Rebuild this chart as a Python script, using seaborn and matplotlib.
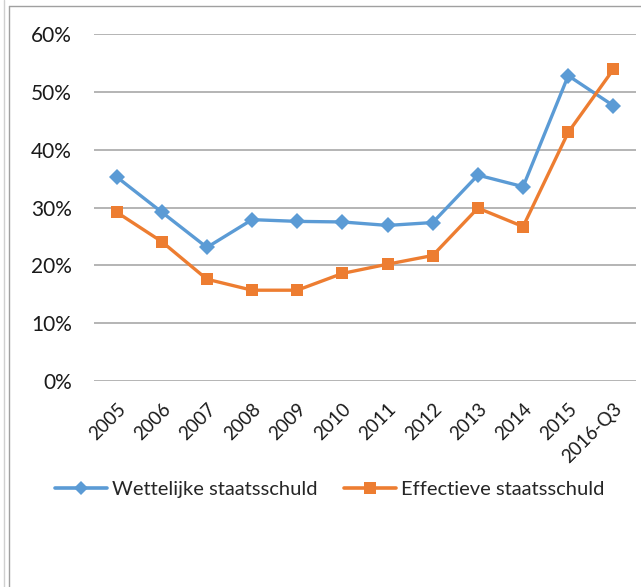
import pandas as pd
import matplotlib
matplotlib.use("Agg")
from matplotlib import pyplot as plt
from matplotlib.lines import Line2D
import seaborn as sns

years = ["2005", "2006", "2007", "2008", "2009", "2010",
         "2011", "2012", "2013", "2014", "2015", "2016-Q3"]
wettelijk = [35.3, 29.2, 23.1, 27.9, 27.6, 27.5, 26.9, 27.4, 35.6, 33.6, 52.8, 47.6]
effectief = [29.2, 24.1, 17.6, 15.7, 15.7, 18.6, 20.2, 21.7, 29.9, 26.7, 43.0, 53.9]

series_names = ["Wettelijke staatsschuld", "Effectieve staatsschuld"]
colors = ["#5b9bd5", "#ed7d31"]

W, H = 641, 587


def build_frame():
    rows = []
    for name, vals in zip(series_names, [wettelijk, effectief]):
        for y, v in zip(years, vals):
            rows.append({"jaar": y, "aandeel": v / 100, "reeks": name})
    return pd.DataFrame(rows)


def main():
    df = build_frame()
    sns.set_theme(style="white")
    plt.rcParams["font.family"] = ["Lato", "DejaVu Sans"]

    fig = plt.figure(figsize=(W / 100, H / 100), dpi=100)
    ax = fig.add_axes([94 / W, 1 - 381 / H, (636 - 94) / W, (381 - 34) / H])

    sns.lineplot(
        data=df, x="jaar", y="aandeel", hue="reeks", style="reeks",
        palette=colors, markers={series_names[0]: "D", series_names[1]: "s"},
        dashes=False, sort=False, linewidth=2.4, markersize=9,
        markeredgewidth=0, ax=ax, legend=False, zorder=3,
    )
    # diamond a bit smaller than the squares
    ax.lines[0].set_markersize(8)

    ax.set_xlim(-0.5, len(years) - 0.5)
    ax.set_ylim(0, 0.6)
    ax.set_yticks([i / 10 for i in range(7)])
    ax.set_yticklabels([f"{i * 10}%" for i in range(7)], fontsize=15, color="#1a1a1a")
    ax.set_xticks(range(len(years)))
    ax.set_xticklabels(years, fontsize=13.5, color="#1a1a1a", rotation=45,
                       ha="right", rotation_mode="anchor")
    ax.tick_params(axis="y", pad=16, length=0)
    ax.tick_params(axis="x", pad=14, length=0)
    ax.yaxis.grid(True, color="#a0a0a0", linewidth=1.1)
    ax.set_axisbelow(True)
    for s in ax.spines.values():
        s.set_visible(False)
    ax.set_xlabel("")
    ax.set_ylabel("")
    for ln in ax.lines:
        ln.set_clip_on(False)

    handles = [
        Line2D([], [], color=colors[0], marker="D", markersize=7, linewidth=2.6, markeredgewidth=0),
        Line2D([], [], color=colors[1], marker="s", markersize=8, linewidth=2.6, markeredgewidth=0),
    ]
    fig.legend(handles, series_names, loc="center", bbox_to_anchor=(0.514, 1 - 489 / H),
               ncol=2, frameon=False, fontsize=14.5, handlelength=2.6,
               handletextpad=0.25, columnspacing=1.3)

    # document frame around the embedded chart
    fig.add_artist(Line2D([3.5 / W] * 2, [0, 1], color="#d0d0d0", linewidth=1))
    fig.add_artist(Line2D([8.5 / W] * 2, [0, 1 - 5.5 / H], color="#a0a0a0", linewidth=1))
    fig.add_artist(Line2D([8.5 / W, 1], [1 - 5.5 / H] * 2, color="#a0a0a0", linewidth=1))

    fig.savefig("out.png", dpi=100)


if __name__ == "__main__":
    main()
